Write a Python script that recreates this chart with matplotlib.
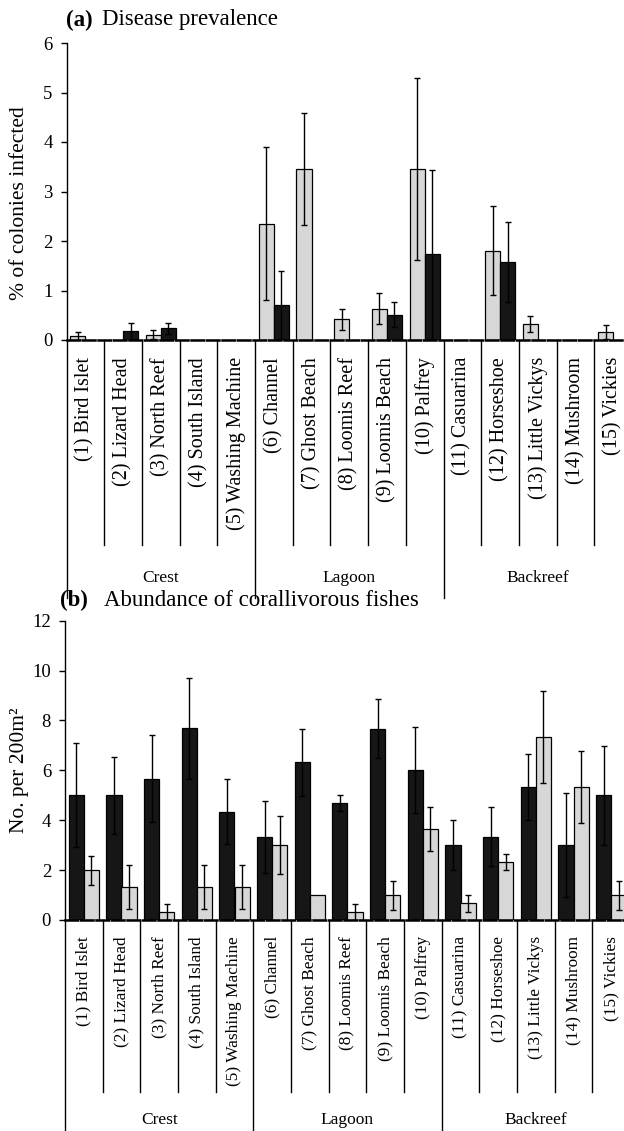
"""Disease prevalence and corallivorous fish abundance per site (two stacked bar panels)."""

import matplotlib

matplotlib.use("Agg")
import matplotlib.pyplot as plt
import matplotlib.transforms as mtransforms
import numpy as np

plt.rcParams["font.family"] = ["Liberation Serif", "DejaVu Serif"]

SITES = [
    "(1) Bird Islet", "(2) Lizard Head", "(3) North Reef", "(4) South Island",
    "(5) Washing Machine", "(6) Channel", "(7) Ghost Beach", "(8) Loomis Reef",
    "(9) Loomis Beach", "(10) Palfrey", "(11) Casuarina", "(12) Horseshoe",
    "(13) Little Vickys", "(14) Mushroom", "(15) Vickies",
]
GROUPS = ["Crest", "Lagoon", "Backreef"]
GROUP_SIZES = [5, 5, 5]

# panel (a): % colonies infected, grey = first series, black = second series
prev_grey = [0.09, 0, 0.11, 0, 0, 2.35, 3.45, 0.42, 0.63, 3.45, 0, 1.80, 0.33, 0, 0.155]
prev_grey_se = [0.08, 0, 0.09, 0, 0, 1.55, 1.13, 0.21, 0.31, 1.84, 0, 0.90, 0.16, 0, 0.14]
prev_black = [0, 0.18, 0.24, 0, 0, 0.71, 0, 0, 0.51, 1.73, 0, 1.58, 0, 0, 0]
prev_black_se = [0, 0.17, 0.11, 0, 0, 0.69, 0, 0, 0.25, 1.71, 0, 0.81, 0, 0, 0]

# panel (b): fish per 200 m2, black = first series, grey = second series
fish_black = [5.0, 5.0, 5.67, 7.68, 4.34, 3.34, 6.33, 4.68, 7.67, 6.01, 3.0, 3.34, 5.33, 3.0, 5.0]
fish_black_se = [2.08, 1.54, 1.76, 2.01, 1.31, 1.44, 1.34, 0.32, 1.19, 1.71, 1.0, 1.19, 1.34, 2.09, 1.99]
fish_grey = [2.0, 1.34, 0.33, 1.34, 1.34, 3.0, 1.0, 0.33, 1.0, 3.66, 0.67, 2.34, 7.34, 5.33, 1.0]
fish_grey_se = [0.58, 0.88, 0.33, 0.88, 0.88, 1.16, 0, 0.33, 0.58, 0.88, 0.33, 0.32, 1.85, 1.46, 0.58]

GREY = "#d6d7d6"
BLACK = "#161616"
W_PX, H_PX = 624, 1131


def px_axes(left, right, top, bottom):
    """Convert a pixel box (y measured from the top) to figure fractions."""
    return [left / W_PX, 1 - bottom / H_PX, (right - left) / W_PX, (bottom - top) / H_PX]


def draw_panel(ax, series, ylim, yticks, ylabel, label_y, short_px, long_px, group_px,
               label_px, label_size):
    x = np.arange(len(SITES))
    for offset, values, errors, color in series:
        ax.bar(x + offset, values, width=0.4, color=color, edgecolor="black", linewidth=0.9, zorder=2)
        values = np.asarray(values)
        errors = np.asarray(errors)
        keep = errors > 0
        ax.errorbar(x[keep] + offset, values[keep], yerr=errors[keep], fmt="none",
                    ecolor="black", elinewidth=1.0, capsize=2.5, capthick=1.0, zorder=3)

    ax.set_xlim(-0.5, len(SITES) - 0.5)
    ax.set_ylim(*ylim)
    ax.set_yticks(yticks)
    ax.tick_params(axis="y", direction="out", length=4.5, width=1, labelsize=13.5, pad=5.5)
    ax.set_xticks([])
    ax.set_ylabel(ylabel, fontsize=15.5)
    # the label's right edge sits about 29 px from the left of the figure
    w_px = ax.get_position().width * W_PX
    ax.yaxis.set_label_coords(-(ax.get_position().x0 * W_PX - 29) / w_px, label_y)
    for side in ("top", "right"):
        ax.spines[side].set_visible(False)
    ax.spines["left"].set_linewidth(1.0)
    ax.spines["bottom"].set_linewidth(1.8)
    ax.spines["bottom"].set_linestyle((0, (5, 1.2)))

    # site separators and labels hang below the axis
    h_px = ax.get_position().height * H_PX
    trans = mtransforms.blended_transform_factory(ax.transData, ax.transAxes)
    edges = np.cumsum([0] + GROUP_SIZES) - 0.5
    for b in np.arange(len(SITES) + 1) - 0.5:
        depth = long_px if b in edges else short_px
        ax.plot([b, b], [0, -depth / h_px], transform=trans, color="black",
                linewidth=1.0, clip_on=False)
    for i, name in enumerate(SITES):
        ax.text(i, -label_px / h_px, name, transform=trans, rotation=90,
                ha="center", va="top", fontsize=label_size)
    for g, name in enumerate(GROUPS):
        centre = (edges[g] + edges[g + 1]) / 2
        ax.text(centre, -group_px / h_px, name, transform=trans,
                ha="center", va="center", fontsize=12.5)


fig = plt.figure(figsize=(W_PX / 100, H_PX / 100), dpi=100)

ax_a = fig.add_axes(px_axes(66.5, 632, 43, 340))
draw_panel(
    ax_a,
    [(-0.2, prev_grey, prev_grey_se, GREY), (0.2, prev_black, prev_black_se, BLACK)],
    (0, 6), range(0, 7), "% of colonies infected", label_y=0.46,
    short_px=205, long_px=258, group_px=238, label_px=17, label_size=14.5,
)

ax_b = fig.add_axes(px_axes(65, 630, 620.7, 920))
draw_panel(
    ax_b,
    [(-0.2, fish_black, fish_black_se, BLACK), (0.2, fish_grey, fish_grey_se, GREY)],
    (0, 12), range(0, 13, 2), "No. per 200m\u00b2", label_y=0.5,
    short_px=172, long_px=220, group_px=200, label_px=16, label_size=12.4,
)

fig.text(66 / W_PX, 1 - 20 / H_PX, "(a)", fontsize=16.5, fontweight="bold", va="center")
fig.text(102 / W_PX, 1 - 20 / H_PX, "Disease prevalence", fontsize=16.5, va="center")
fig.text(60 / W_PX, 1 - 600 / H_PX, "(b)", fontsize=16.5, fontweight="bold", va="center")
fig.text(104 / W_PX, 1 - 600 / H_PX, "Abundance of corallivorous fishes", fontsize=16.5, va="center")

fig.savefig("out.png", dpi=100)
